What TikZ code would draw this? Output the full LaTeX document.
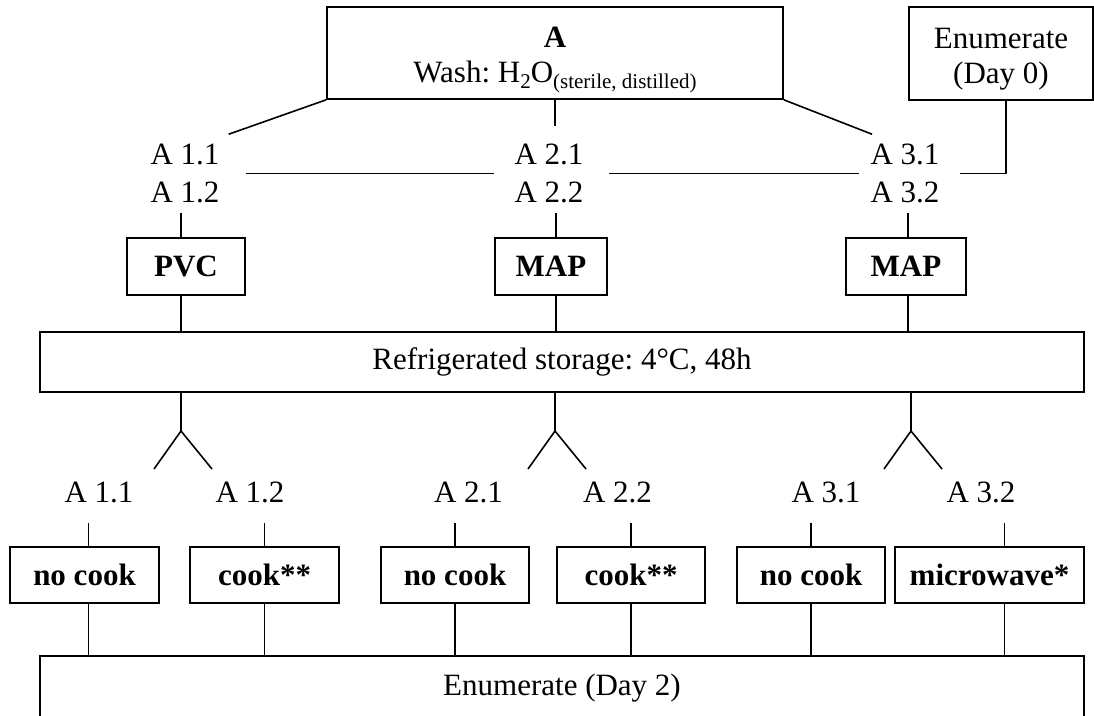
\documentclass[tikz,border=0pt]{standalone}
\usepackage{fontspec}
\setmainfont{Liberation Serif}
\frenchspacing
\newcommand\mfs{\fontsize{31}{38}\selectfont\frenchspacing}
\newcommand\lowsub[1]{\raisebox{-6pt}{\fontsize{21}{21}\selectfont #1}}
\begin{document}
\begin{tikzpicture}[x=1pt,y=-1pt, line width=1.6pt,
  box/.style={draw, line width=1.6pt, inner sep=0pt, align=center, font=\mfs},
  bbox/.style={box, font=\mfs\bfseries},
  txt/.style={inner sep=0pt, font=\mfs},
  lbl/.style={inner xsep=20pt, inner ysep=9pt, align=center, font=\mfs},
  up/.style={shorten >=20pt}]
\useasboundingbox (0,0) rectangle (1094,715);

% top boxes
\node[box, minimum width=456pt, minimum height=92pt] (A) at (555,53) {};
\node[txt, anchor=base] (Atitle) at (555,47) {\textbf{A}};
\node[txt, anchor=base] (Awash) at (555,82) {Wash: H\lowsub{2}O\lowsub{(sterile, distilled)}};
\node[box, minimum width=184pt, minimum height=93pt] (E0) at (1001,53.5) {};
\node[txt, anchor=base] (E0a) at (1001,48) {Enumerate};
\node[txt, anchor=base] (E0b) at (1001,83) {(Day 0)};

% first labels
\node[lbl] (l1) at (185,173.5) {A 1.1\\A 1.2};
\node[lbl] (l2) at (549,173.5) {A 2.1\\A 2.2};
\node[lbl] (l3) at (905,173.5) {A 3.1\\A 3.2};

\draw (A.south west) -- (l1.42);
\draw[shorten >=8pt] (A.south) -- (A.south |- l2.north);
\draw (A.south east) -- (l3.130);
\draw[shorten <=6pt] (l1.east) -- (l2.west);
\draw[shorten <=5pt, shorten >=-9pt] (l2.east) -- (l3.west);
\draw (l3.east) -| ([xshift=5pt]E0.south);

% packaging
\node[bbox, minimum width=118pt, minimum height=57pt] (pvc) at (186,266.5) {PVC};
\node[bbox, minimum width=112pt, minimum height=57pt] (map1) at (551,266.5) {MAP};
\node[bbox, minimum width=120pt, minimum height=57pt] (map2) at (906,266.5) {MAP};
\draw ([xshift=-5pt]pvc.north) -- ([xshift=-5pt]pvc.north |- l1.south);
\draw ([xshift=5pt]map1.north) -- ([xshift=5pt]map1.north |- l2.south);
\draw ([xshift=2pt]map2.north) -- ([xshift=2pt]map2.north |- l3.south);

% storage
\node[box, minimum width=1044pt, minimum height=60pt] (st) at (562,362) {Refrigerated storage: 4°C, 48h};
\draw ([xshift=-5pt]pvc.south) -- ([xshift=-5pt]pvc.south |- st.north);
\draw ([xshift=5pt]map1.south) -- ([xshift=5pt]map1.south |- st.north);
\draw ([xshift=2pt]map2.south) -- ([xshift=2pt]map2.south |- st.north);

% forks
\coordinate (f1) at (181,431); \coordinate (f1l) at (154,469); \coordinate (f1r) at (212,469);
\coordinate (f2) at (555,431); \coordinate (f2l) at (528,469); \coordinate (f2r) at (586,469);
\coordinate (f3) at (911,431); \coordinate (f3l) at (884,469); \coordinate (f3r) at (942,469);
\draw (f1 |- st.south) -- (f1); \draw (f1l) -- (f1) -- (f1r);
\draw (f2 |- st.south) -- (f2); \draw (f2l) -- (f2) -- (f2r);
\draw (f3 |- st.south) -- (f3); \draw (f3l) -- (f3) -- (f3r);

% second labels
\node[txt, anchor=base] (b11) at (99,502) {A 1.1};
\node[txt, anchor=base] (b12) at (250,502) {A 1.2};
\node[txt, anchor=base] (b21) at (468.5,502) {A 2.1};
\node[txt, anchor=base] (b22) at (617.5,502) {A 2.2};
\node[txt, anchor=base] (b31) at (826,502) {A 3.1};
\node[txt, anchor=base] (b32) at (981,502) {A 3.2};

% cooking boxes
\node[bbox, minimum width=149pt, minimum height=56pt] (nc1) at (84.5,575) {no cook};
\node[bbox, minimum width=149pt, minimum height=56pt] (c1) at (264.5,575) {cook**};
\node[bbox, minimum width=148pt, minimum height=56pt] (nc2) at (455,575) {no cook};
\node[bbox, minimum width=148pt, minimum height=56pt] (c2) at (631,575) {cook**};
\node[bbox, minimum width=148pt, minimum height=56pt] (nc3) at (811,575) {no cook};
\node[bbox, minimum width=189pt, minimum height=56pt] (mw) at (989.5,575) {microwave*};

\draw[up] ([xshift=4pt]nc1.north) -- ([xshift=4pt]nc1.north |- b11.south);
\draw[up] (c1.north) -- (c1.north |- b12.south);
\draw[up] (nc2.north) -- (nc2.north |- b21.south);
\draw[up] (c2.north) -- (c2.north |- b22.south);
\draw[up] (nc3.north) -- (nc3.north |- b31.south);
\draw[up] ([xshift=15pt]mw.north) -- ([xshift=15pt]mw.north |- b32.south);

% final enumeration
\node[box, minimum width=1044pt, minimum height=64pt] (E2) at (562,688) {Enumerate (Day 2)};
\draw ([xshift=4pt]nc1.south) -- ([xshift=4pt]nc1.south |- E2.north);
\draw (c1.south) -- (c1.south |- E2.north);
\draw (nc2.south) -- (nc2.south |- E2.north);
\draw (c2.south) -- (c2.south |- E2.north);
\draw (nc3.south) -- (nc3.south |- E2.north);
\draw ([xshift=15pt]mw.south) -- ([xshift=15pt]mw.south |- E2.north);
\end{tikzpicture}
\end{document}
